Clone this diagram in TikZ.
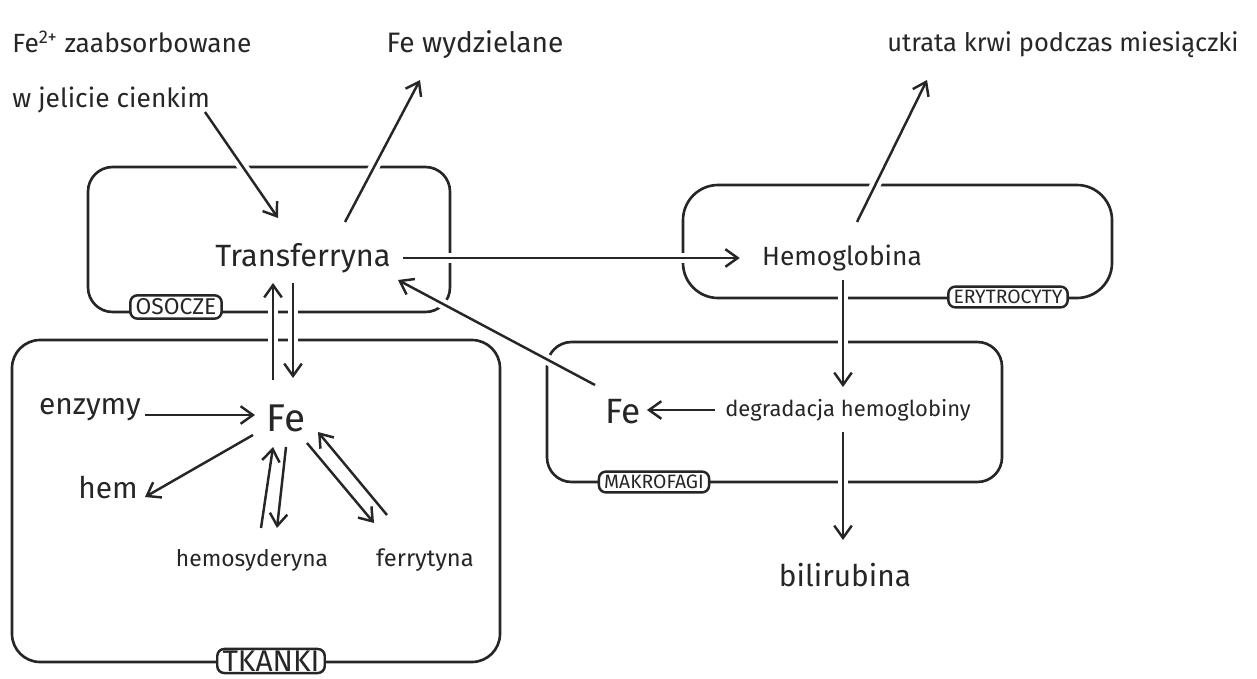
\documentclass[tikz,border=0pt]{standalone}
\usepackage{fontspec}
\setmainfont{Fira Sans}
\usetikzlibrary{arrows.meta,calc}
\definecolor{ink}{HTML}{262626}
\newcommand\fsz[1]{\fontsize{#1}{#1}\selectfont}

\begin{document}
\begin{tikzpicture}[x=0.02cm,y=-0.02cm]
\tikzstyle{every node}+=[inner sep=0pt,text=ink]
\tikzstyle{box}=[draw=ink,line width=1.5pt,rounded corners=14pt]
\tikzstyle{tag}=[draw=ink,line width=1.4pt,fill=white,rounded corners=4pt,inner xsep=3pt,inner ysep=2pt]
\tikzstyle{arr}=[draw=ink,line width=1.4pt,-{Straight Barb[length=7pt,width=10pt]}]
\tikzstyle{gap}=[preaction={draw=white,line width=6pt,-}]
\useasboundingbox (0,0) rectangle (1257,679);

% compartments
\draw [box] (88,167) rectangle (450,312);
\draw [box,rounded corners=20pt] (683,185) rectangle (1112,298);
\draw [box] (547,342) rectangle (1002,482);
\draw [box,rounded corners=16pt] (12,340) rectangle (500,662);
\node (osocze) [tag,font=\fsz{13}] at (176,307) {OSOCZE};
\node (ery) [tag,font=\fsz{11}] at (1008,297) {ERYTROCYTY};
\node (makro) [tag,font=\fsz{11}] at (654,482) {MAKROFAGI};
\node (tkanki) [tag,font=\fsz{17},inner ysep=1pt] at (271,661) {TKANKI};

% texts
\node (absorb) [align=left,font=\fsz{15}] at (132,72) {Fe\textsuperscript{2+} zaabsorbowane\\[16pt]w jelicie cienkim};
\node (wyd) [font=\fsz{16}] at (475,45) {Fe wydzielane};
\node (utrata) [font=\fsz{14.5}] at (1063,45) {utrata krwi podczas miesiączki};
\node (tr) [font=\fsz{17.5}] at (303,258) {Transferryna};
\node (hb) [font=\fsz{15}] at (842,258) {Hemoglobina};
\node (feT) [font=\fsz{22}] at (286,418) {Fe};
\node (enz) [font=\fsz{17}] at (90,410) {enzymy};
\node (hem) [font=\fsz{17}] at (108,488) {hem};
\node (hsd) [font=\fsz{13}] at (252,560) {hemosyderyna};
\node (fer) [font=\fsz{13.5}] at (425,560) {ferrytyna};
\node (feM) [font=\fsz{20}] at (623,412) {Fe};
\node (deg) [font=\fsz{12.5}] at (848,410) {degradacja hemoglobiny};
\node (bil) [font=\fsz{17}] at (845,575) {bilirubina};

% transport
\draw [arr,gap] ($(absorb)+(73,40)$) -- ($(tr)+(-25,-40)$);
\draw [arr,gap] ($(tr)+(42,-36)$) -- ($(wyd)+(-55,35)$);
\draw [arr,gap] ($(tr.east)+(12,0)$) -- ($(hb.west)+(-22,0)$);
\draw [arr,gap] ($(hb)+(15,-36)$) -- ($(utrata)+(-136,35)$);
\draw [arr,gap] ($(hb)+(1,22)$) -- ($(deg)+(-5,-23)$);
\draw [arr,gap] ($(deg)+(-5,22)$) -- ($(bil)+(-2,-35)$);
\draw [arr] ($(deg.west)+(-10,0)$) -- ($(feM.east)+(6,-2)$);
\draw [arr,gap] ($(feM)+(-28,-27)$) -- ($(tr)+(95,22)$);
\draw [arr,gap] ($(feT)+(-13,-38)$) -- ($(tr)+(-30,25)$);
\draw [arr,gap] ($(tr)+(-10,25)$) -- ($(feT)+(7,-40)$);

% tissue stores
\draw [arr] ($(enz)+(55,5)$) -- ($(feT)+(-31,-3)$);
\draw [arr] ($(feT)+(-33,17)$) -- ($(hem)+(37,9)$);
\draw [arr] ($(hsd)+(9,-32)$) -- ($(feT)+(-13,29)$);
\draw [arr] ($(feT)+(0,29)$) -- ($(hsd)+(25,-32)$);
\draw [arr] ($(feT)+(21,25)$) -- ($(fer)+(-51,-37)$);
\draw [arr] ($(fer)+(-38,-45)$) -- ($(feT)+(32,14)$);
\end{tikzpicture}
\end{document}
